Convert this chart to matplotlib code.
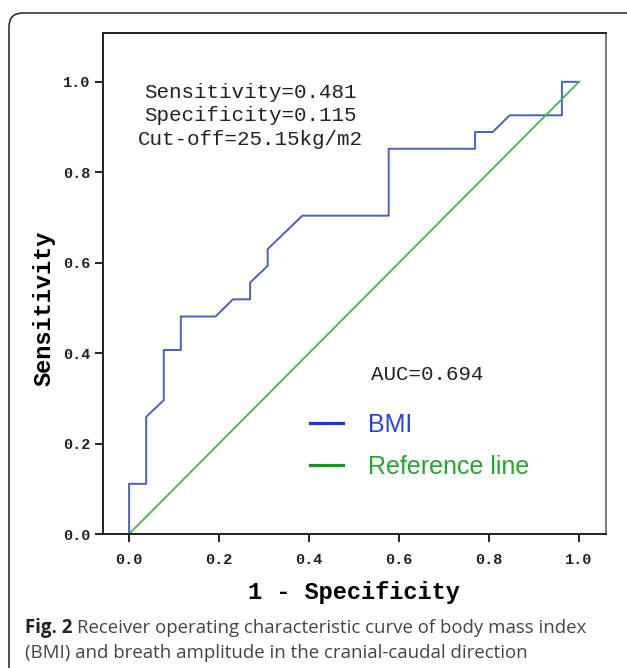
import matplotlib
matplotlib.use("Agg")
import matplotlib.pyplot as plt
from matplotlib.patches import FancyBboxPatch
from matplotlib.lines import Line2D
import matplotlib.transforms as mtransforms

# ROC curve of BMI
fpr = [0, 0, 0.038, 0.038, 0.077, 0.077, 0.115, 0.115, 0.192, 0.231, 0.269, 0.269,
       0.308, 0.308, 0.385, 0.577, 0.577, 0.769, 0.769, 0.808, 0.846, 0.962, 0.962, 1.0]
tpr = [0, 0.111, 0.111, 0.259, 0.296, 0.407, 0.407, 0.481, 0.481, 0.519, 0.519, 0.556,
       0.593, 0.630, 0.704, 0.704, 0.852, 0.852, 0.889, 0.889, 0.926, 0.926, 1.0, 1.0]
ref_x = [0, 1]
ref_y = [0, 1]
ticks = [0.0, 0.2, 0.4, 0.6, 0.8, 1.0]
tick_labels = ["0.0", "0.2", "0.4", "0.6", "0.8", "1.0"]

stats_text = "Sensitivity=0.481\nSpecificity=0.115\nCut-off=25.15kg/m2"
auc_text = "AUC=0.694"
legend_labels = ["BMI", "Reference line"]
caption_bold = "Fig. 2"
caption_1 = "Receiver operating characteristic curve of body mass index"
caption_2 = "(BMI) and breath amplitude in the cranial-caudal direction"

mono = "Liberation Mono"
blue = "#4660c6"
green = "#3cbb46"

W, H = 627, 668
fig = plt.figure(figsize=(W / 100, H / 100), dpi=100)

# rounded frame around figure (cut off at right and bottom)
frame = FancyBboxPatch((9, -40), 640, H - 13 + 40,
                       boxstyle="round,pad=0,rounding_size=14",
                       transform=mtransforms.IdentityTransform(),
                       fill=False, edgecolor="#222222", linewidth=1.1)
fig.patches.append(frame)

ax = fig.add_axes([103 / W, 1 - 534 / H, 503 / W, 501 / H])
ax.plot(fpr, tpr, color=blue, lw=1.4)
ax.plot(ref_x, ref_y, color=green, lw=1.3)

ax.set_xlim(-0.058, 1.06)
ax.set_ylim(0, 1.108)
ax.set_xticks(ticks)
ax.set_yticks(ticks)
ax.set_xticklabels(tick_labels, family=mono, fontsize=11, fontweight="bold", color="#222222")
ax.set_yticklabels(tick_labels, family=mono, fontsize=11, fontweight="bold", color="#222222")
ax.tick_params(axis="both", direction="out", length=6, width=1.4, color="#222222")
ax.tick_params(axis="x", pad=8)
ax.tick_params(axis="y", pad=3)
for sp in ax.spines.values():
    sp.set_linewidth(1.4)
    sp.set_color("#222222")
ax.spines["right"].set_color("#555555")
ax.spines["right"].set_linewidth(1.1)

ax.set_xlabel("1 - Specificity", family=mono, fontsize=17, fontweight="bold", va="center")
ax.set_ylabel("Sensitivity", family=mono, fontsize=17, fontweight="bold", va="center")
ax.xaxis.set_label_coords(0.499, -0.116)
ax.yaxis.set_label_coords(-0.117, 0.451)

ax.text(0.269, 0.925, stats_text, family=mono, fontsize=15, ha="center", va="center",
        linespacing=1.3, color="#222222")
ax.text(0.537, 0.352, auc_text, family=mono, fontsize=15, ha="left", va="center",
        color="#222222")

handles = [Line2D([], [], color="#1a35e0", lw=2.3),
           Line2D([], [], color="#139a1c", lw=2.3)]
leg = ax.legend(handles, legend_labels, loc="upper left", bbox_to_anchor=(0.4115, 0.242),
                frameon=False, prop={"family": "Liberation Sans", "size": 18},
                handlelength=1.32, handletextpad=1.0, labelspacing=0.72,
                borderpad=0, borderaxespad=0)
leg.get_texts()[0].set_color("#2a3ef0")
leg.get_texts()[1].set_color("#22a82a")

# caption
fig.canvas.draw()
renderer = fig.canvas.get_renderer()
t_bold = fig.text(25 / W, 1 - 633 / H, caption_bold, family="Open Sans", fontsize=13.45,
                  fontweight="bold", color="#222222", va="baseline")
bb = t_bold.get_window_extent(renderer)
fig.text((bb.x1 + 5) / W, 1 - 633 / H, caption_1, family="Open Sans", fontsize=13.45,
         color="#444444", va="baseline")
fig.text(25 / W, 1 - 658 / H, caption_2, family="Open Sans", fontsize=13.45,
         color="#444444", va="baseline")

fig.savefig("out.png", dpi=100)
